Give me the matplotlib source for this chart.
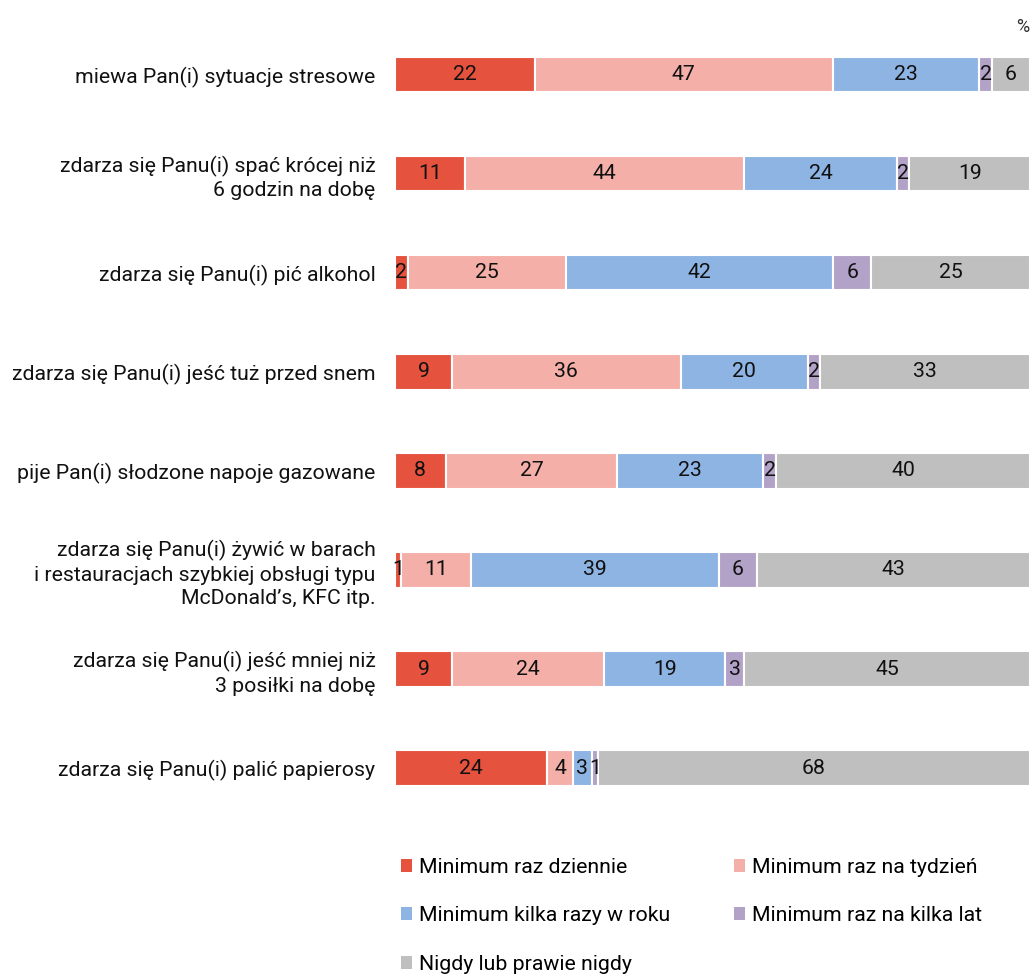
import matplotlib.pyplot as plt
from matplotlib.patches import Patch

plt.rcParams['font.family'] = ['Roboto', 'DejaVu Sans']

questions = [
    'miewa Pan(i) sytuacje stresowe',
    'zdarza się Panu(i) spać krócej niż\n6 godzin na dobę',
    'zdarza się Panu(i) pić alkohol',
    'zdarza się Panu(i) jeść tuż przed snem',
    'pije Pan(i) słodzone napoje gazowane',
    'zdarza się Panu(i) żywić w barach\ni restauracjach szybkiej obsługi typu\nMcDonald\u2019s, KFC itp.',
    'zdarza się Panu(i) jeść mniej niż\n3 posiłki na dobę',
    'zdarza się Panu(i) palić papierosy',
]

series = [
    'Minimum raz dziennie',
    'Minimum raz na tydzień',
    'Minimum kilka razy w roku',
    'Minimum raz na kilka lat',
    'Nigdy lub prawie nigdy',
]

daily = [22, 11, 2, 9, 8, 1, 9, 24]
weekly = [47, 44, 25, 36, 27, 11, 24, 4]
yearly = [23, 24, 42, 20, 23, 39, 19, 3]
few_years = [2, 2, 6, 2, 2, 6, 3, 1]
never = [6, 19, 25, 33, 40, 43, 45, 68]

colors = ['#E5533F', '#F3AFA8', '#8EB4E3', '#B3A2C7', '#BFBFBF']
fs = 15.3

fig = plt.figure(figsize=(10.31, 9.75), dpi=100)
ax = fig.add_axes([0.383, 0.1615, 0.616, 0.8125])

y = list(range(len(questions)))
left = [0] * len(questions)
for vals, color in zip([daily, weekly, yearly, few_years, never], colors):
    bars = ax.barh(y, vals, left=left, height=0.355, color=color,
                   edgecolor='white', linewidth=1.5)
    for b, v in zip(bars, vals):
        ax.text(b.get_x() + b.get_width() / 2, b.get_y() + b.get_height() / 2,
                str(v), ha='center', va='center', fontsize=fs, color='#111111')
    left = [l + v for l, v in zip(left, vals)]

ax.set_xlim(0, 100)
ax.set_ylim(7.5, -0.5)
ax.set_yticks(y)
ax.set_yticklabels(questions, fontsize=fs, color='#111111', linespacing=1.3)
ax.tick_params(axis='y', length=0, pad=14)
ax.set_xticks([])
for s in ax.spines.values():
    s.set_visible(False)

fig.text(0.998, 0.972, '%', ha='right', va='center', fontsize=13, color='#333333')

handles = [Patch(facecolor=c, edgecolor='none') for c in colors]
order = [0, 2, 4, 1, 3]
fig.legend([handles[i] for i in order], [series[i] for i in order],
           ncol=2, loc='upper left', bbox_to_anchor=(0.370, 0.140),
           frameon=False, fontsize=fs, handlelength=0.55, handleheight=0.55,
           handletextpad=0.3, labelspacing=1.4, columnspacing=3.0)

fig.savefig('out.png', dpi=100)
